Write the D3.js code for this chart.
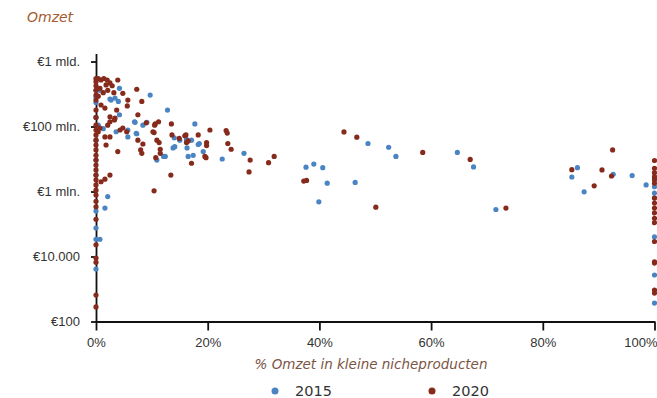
<!DOCTYPE html>
<html>
<head>
<meta charset="utf-8">
<script src="https://cdn.jsdelivr.net/npm/d3@7"></script>
<style>
  body { margin: 0; background: #fff; }
  svg { font-family: "DejaVu Sans", sans-serif; }
  .axis path, .axis line { stroke: #111; stroke-width: 1.8; }
  .axis text { fill: #333; font-size: 13px; }
</style>
</head>
<body>
<svg width="657" height="398"></svg>
<script>
// values: [% omzet in niche, omzet in euro]
let data2015 = [
  [0, 1.3e9], [0, 8e8], [0, 5.5e8], [0, 1.9e8], [0, 3.8e7], [0, 9.3e6], [0, 3.2e6],
  [0, 2.5e5], [0, 7.5e4], [0, 3.4e4], [0, 4.1e3], [0.7, 3.4e4], [2.1, 7e5], [1.6, 3.1e5],
  [0.7, 1.3e9], [3.4, 7.5e8], [4.0, 5.9e8], [2.5, 7e8], [2.7, 6.5e8], [4.2, 1.5e9],
  [0.4, 1.1e8], [1.3, 8.6e7], [4.2, 2.3e8], [5.7, 7.8e7], [6.9, 1.4e8], [8.4, 1.1e8],
  [3.6, 6.9e7], [5.7, 4.8e7], [7.2, 6.2e7], [9.7, 9.3e8], [12.8, 3.2e8], [7.0, 1.35e8],
  [9.1, 1.35e8], [17.7, 1.2e8], [7.3, 6e7], [13.8, 2.2e7], [15.0, 3.8e7], [16.2, 4e7],
  [17.1, 3.8e7], [18.5, 3.0e7], [19.2, 1.7e7], [16.5, 1.2e7], [17.4, 1.3e7], [10.9, 9.3e6],
  [12.1, 1.2e7], [14.0, 4.5e7], [14.1, 2.4e7], [12.4, 1.2e7], [16.3, 2.2e7], [18.3, 2.8e7],
  [22.6, 1e7], [26.5, 1.5e7], [37.6, 5.6e6], [39.0, 7e6], [40.6, 5.4e6], [41.4, 1.8e6],
  [46.4, 1.9e6], [39.9, 4.8e5], [48.7, 3e7], [52.4, 2.3e7], [53.7, 1.2e7], [64.7, 1.6e7],
  [67.6, 5.7e6], [71.6, 2.8e5], [86.2, 5.4e6], [85.2, 2.8e6], [87.4, 9.8e5], [92.6, 3.4e6],
  [96.0, 3.1e6], [98.5, 1.6e6],
  [100, 2.6e6], [100, 1.4e6], [100, 8.9e5], [100, 6.3e5], [100, 4e4], [100, 2.7e3], [100, 3.7e2]
];

let data2020 = [
  [0, 3e9], [0, 2.4e9], [0, 1.8e9], [0, 1.3e9], [0, 9.3e8], [0, 6.5e8], [0, 3.2e8],
  [0, 1.9e8], [0, 1.1e8], [0, 7.8e7], [0, 5.5e7], [0, 3.8e7], [0, 2.7e7], [0, 1.9e7],
  [0, 1.3e7], [0, 9.3e6], [0, 6.5e6], [0, 4.6e6], [0, 3.2e6], [0, 2.3e6], [0, 1.6e6],
  [0, 1.1e6], [0, 7.8e5], [0, 5e5], [0, 3.4e5], [0, 1.4e5], [0, 2.3e4], [0, 9e3],
  [0, 6.6e3], [0, 650], [0, 280],
  [0.4, 3e9], [0.9, 2.7e9], [1.4, 3e9], [2.0, 2.7e9], [2.5, 2.2e9], [0.7, 1.5e9],
  [1.3, 1.1e9], [1.8, 1.9e9], [2.1, 1.3e9], [2.9, 1.8e9], [3.2, 1.1e9], [0.4, 8.6e8],
  [3.9, 2.7e9], [4.8, 1.05e9], [7.3, 1.4e9], [5.7, 6.5e8], [8.2, 5.9e8], [3.7, 3.2e8],
  [0.9, 4.6e8], [1.6, 3.7e8], [5.6, 4.3e8], [7.5, 2.3e8], [10.6, 1.2e8], [13.5, 1.2e8],
  [20.4, 7.8e7], [15.9, 5.2e7], [18.3, 5.5e7], [19.8, 3.2e7], [8.4, 2.9e7], [10.2, 6.9e7],
  [10.9, 3.8e7], [11.5, 2.0e7], [13.6, 5.5e7], [3.9, 1.7e7], [13.4, 3.2e6], [10.4, 1.05e6],
  [5.5, 6.9e7], [4.3, 7.8e7], [2.5, 4.8e7], [1.8, 2.7e7], [0.7, 9e7], [2.5, 2e8],
  [3.4, 1.8e8], [2.1, 1.1e8], [2.5, 1.4e8], [3.3, 1.6e8], [4.8, 9e7], [9.0, 1.3e8],
  [10.5, 1.1e8], [1.6, 4.8e7], [0.4, 6.9e7], [7.5, 3.8e7], [8.0, 1.9e7], [0.9, 2e6],
  [1.6, 2.4e6], [2.5, 3.2e6], [17.1, 7.4e6], [19.5, 1.2e7], [8.2, 1.5e7], [11.5, 1.5e7],
  [11.2, 1.4e8], [10.4, 6.5e7], [11.3, 3.2e7], [10.7, 1.1e7], [14.9, 4.3e7], [16.1, 5.5e7],
  [16.5, 3.6e7], [16.2, 3.2e7], [19.8, 2.6e7], [19.7, 1.1e7], [23.3, 7.5e7], [23.5, 6.3e7],
  [23.6, 3e7], [24.2, 2e7], [27.6, 9.3e6], [27.4, 4e6], [30.9, 7.7e6], [31.9, 1.2e7],
  [37.2, 2.1e6], [37.7, 2.2e6], [50.1, 3.3e5], [44.4, 6.8e7], [46.7, 4.7e7], [58.5, 1.6e7],
  [67.0, 9.7e6], [73.4, 3.1e5], [85.2, 4.7e6], [89.2, 1.5e6], [90.6, 4.6e6], [92.5, 1.9e7],
  [92.3, 3e6],
  [100, 9e6], [100, 5.2e6], [100, 3.8e6], [100, 2.9e6], [100, 2.3e6], [100, 1.8e6],
  [100, 6.3e5], [100, 4.4e5], [100, 3.1e5], [100, 2.2e5], [100, 1.5e5], [100, 1.1e5],
  [100, 2.9e4], [100, 6.9e3], [100, 6.3e3], [100, 930], [100, 750]
];

let yTickValues = [1e2, 1e4, 1e6, 1e8, 1e10];
let yTickLabels = ["€100", "€10.000", "€1 mln.", "€100 mln.", "€1 mld."];
let xTickValues = [0, 20, 40, 60, 80, 100];
let series = ["2015", "2020"];
let colors = ["#4a84c2", "#862a1b"];

let svg = d3.select("svg");

let x = d3.scaleLinear()
    .domain([0, 100])
    .range([96, 654.5]);

let y = d3.scaleLog()
    .domain([1e2, Math.pow(10, 10.25)])
    .range([321.5, 53.4]);

// y axis
svg.append("g")
    .classed("axis", true)
    .attr("transform", "translate(96,0)")
    .call(d3.axisLeft(y)
        .tickValues(yTickValues)
        .tickFormat((d, i) => yTickLabels[i])
        .tickSize(5)
        .tickSizeOuter(0)
        .tickPadding(11));

// x axis
let xAxis = svg.append("g")
    .classed("axis", true)
    .attr("transform", "translate(0,321.5)")
    .call(d3.axisBottom(x)
        .tickValues(xTickValues)
        .tickFormat(d => d + "%")
        .tickSize(9)
        .tickSizeOuter(0)
        .tickPadding(7));

// last label would run off the edge, pull it in
xAxis.selectAll(".tick text")
    .filter(d => d === 100)
    .attr("text-anchor", "end")
    .attr("x", 2.5);

// dots
[data2015, data2020].forEach((set, i) => {
    svg.append("g")
        .selectAll("circle")
        .data(set)
        .enter()
        .append("circle")
        .attr("cx", d => x(d[0]))
        .attr("cy", d => y(d[1]))
        .attr("r", 2.6)
        .attr("fill", colors[i]);
});

// titles
svg.append("text")
    .attr("x", 27)
    .attr("y", 22)
    .style("font-size", "14px")
    .style("font-style", "italic")
    .style("fill", "#a35a2e")
    .text("Omzet");

svg.append("text")
    .attr("x", 371)
    .attr("y", 369)
    .attr("text-anchor", "middle")
    .style("font-size", "13.5px")
    .style("font-style", "italic")
    .style("fill", "#7b5444")
    .text("% Omzet in kleine nicheproducten");

// legend
let legend = svg.append("g")
    .selectAll("g")
    .data(series)
    .enter()
    .append("g")
    .attr("transform", (d, i) => "translate(" + (275 + i * 157) + ",391)");

legend.append("circle")
    .attr("r", 3.5)
    .attr("fill", (d, i) => colors[i]);

legend.append("text")
    .attr("x", 20)
    .attr("y", 5)
    .style("font-size", "14.5px")
    .style("fill", "#333")
    .text(d => d);
</script>
</body>
</html>
